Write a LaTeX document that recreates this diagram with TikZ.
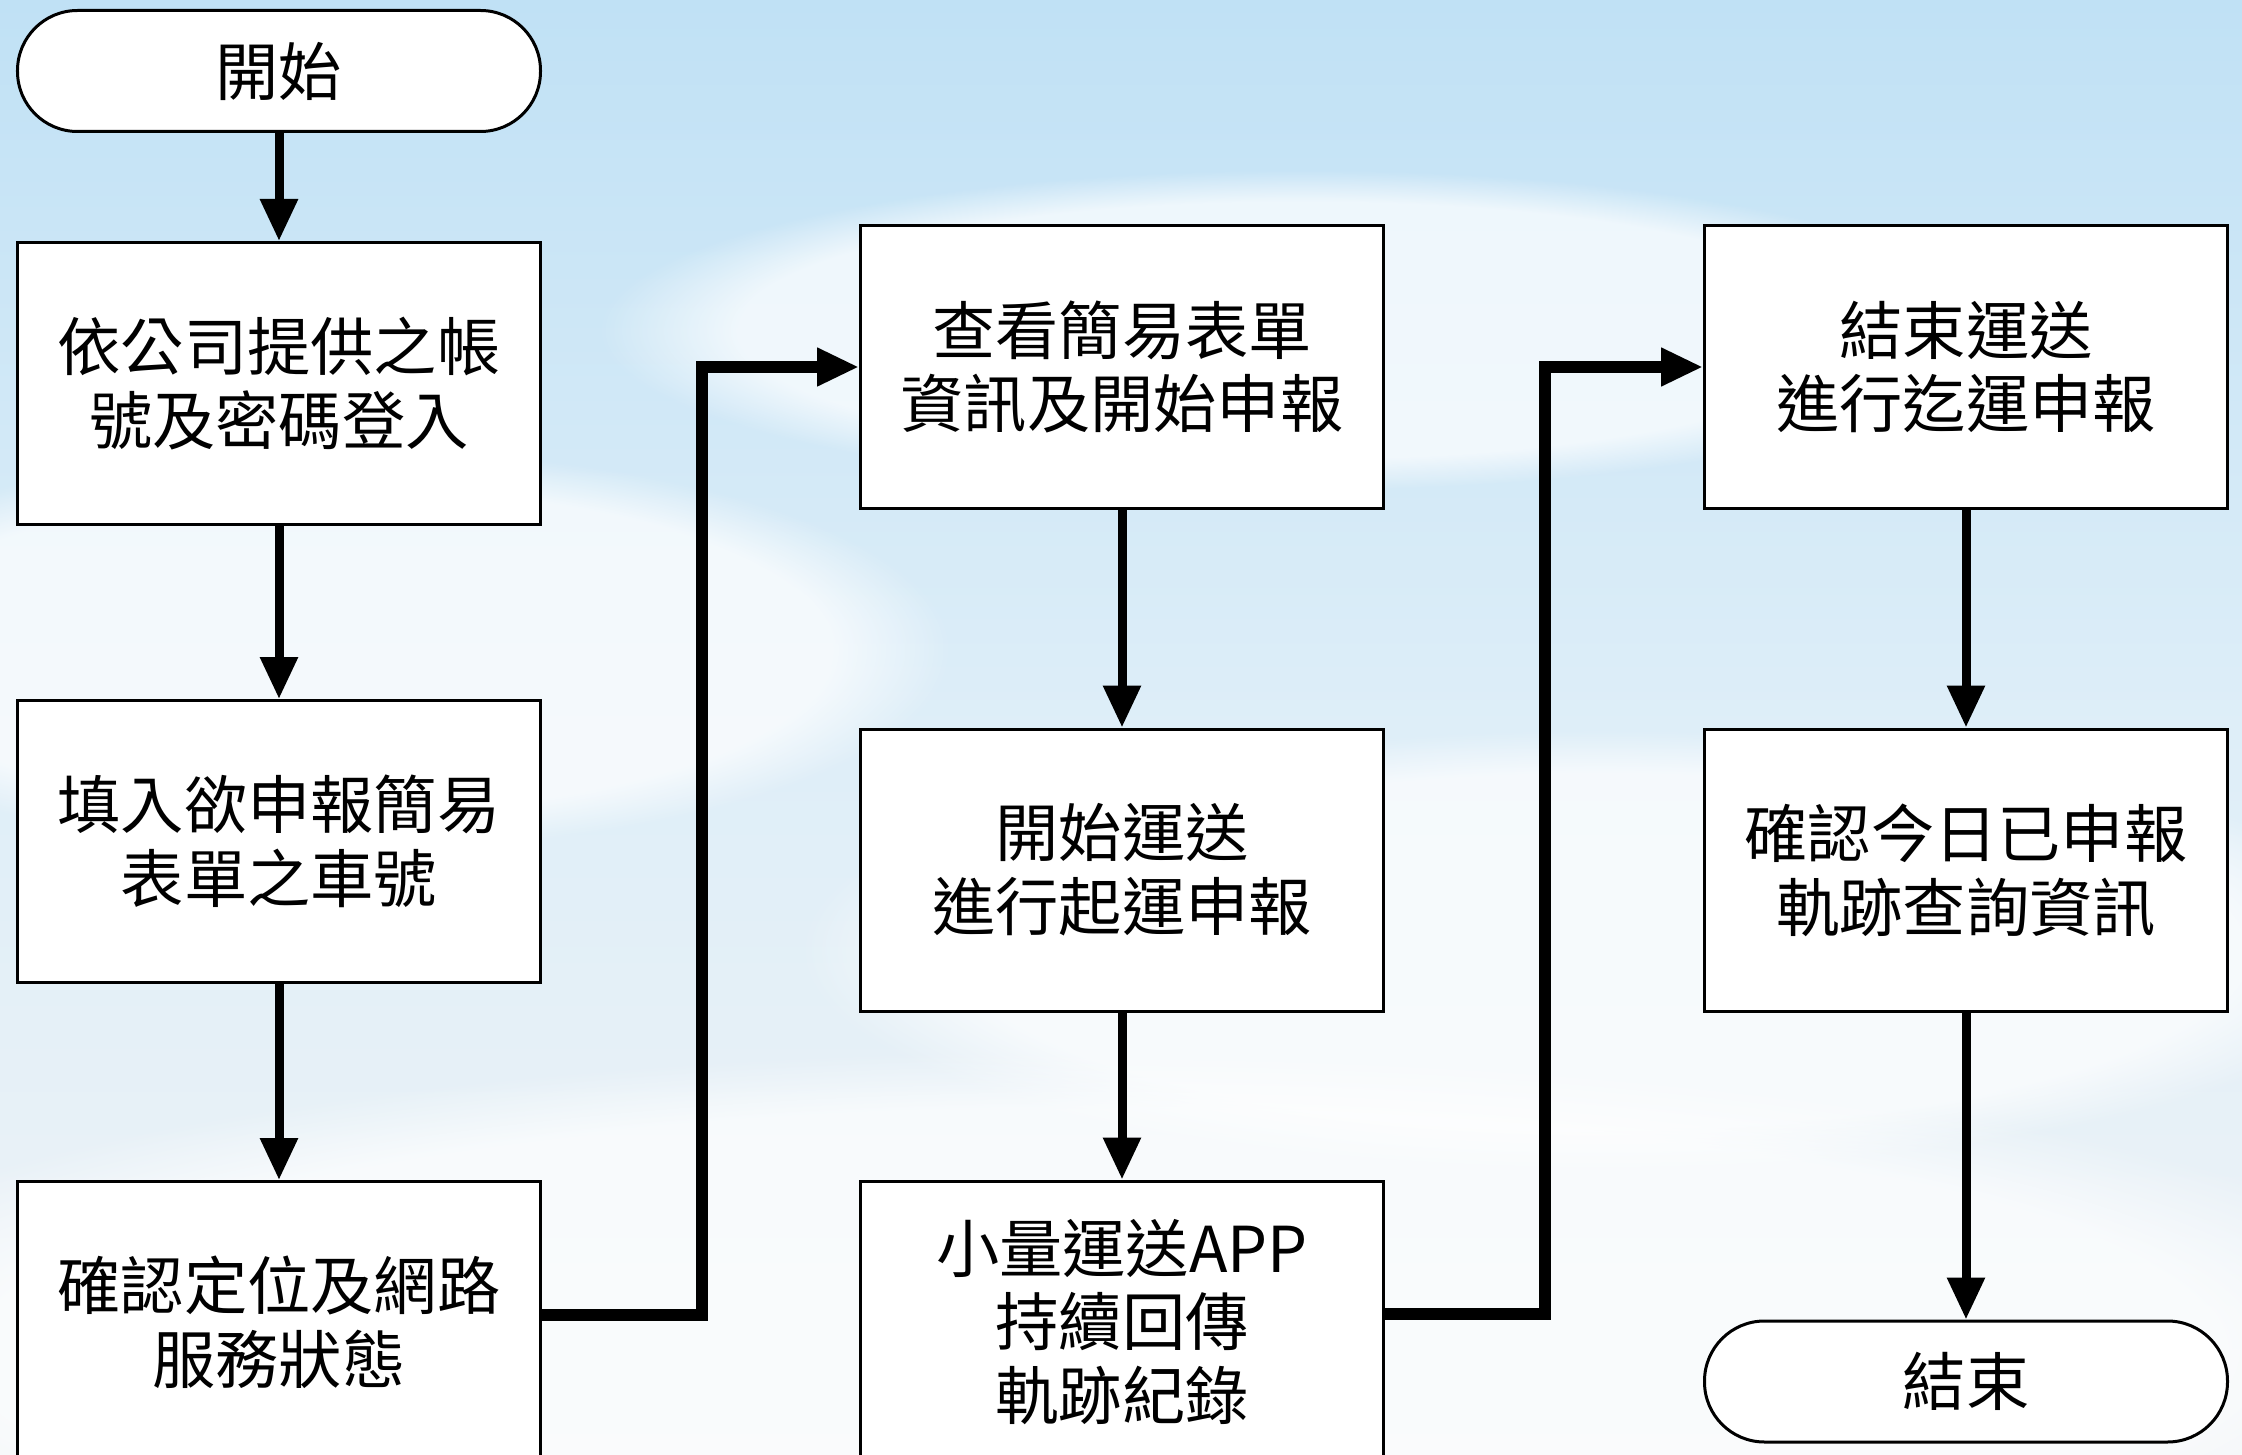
\documentclass[tikz,border=0pt]{standalone}
\usepackage{fontspec}
\newfontfamily\cjk{Noto Sans CJK TC}
\usetikzlibrary{shapes,positioning,calc,arrows.meta,fadings}
\definecolor{skytop}{RGB}{192,225,245}
\definecolor{skymid}{RGB}{222,238,248}
\definecolor{skylow}{RGB}{239,243,246}

\begin{document}
\begin{tikzpicture}[
      box/.style = {draw, fill=white, line width=0.03cm, minimum width=5.23cm,
                    minimum height=2.82cm, inner sep=0pt, align=center,
                    font=\cjk\fontsize{18}{21}\selectfont},
      term/.style = {box, rounded corners=0.6cm, minimum height=1.21cm},
      flow/.style = {-{Triangle[width=0.36cm,length=0.42cm]}, line width=0.09cm},
      jump/.style = {flow, line width=0.12cm},
      cloud/.style = {white, opacity=0.7, path fading=circle with fuzzy edge 20 percent}
      ]
      \useasboundingbox (0,0) rectangle (22.42,-14.55);
      \clip (0,0) rectangle (22.42,-14.55);
      % sky
      \shade[top color=skytop, bottom color=skylow, middle color=skymid] (0,0) rectangle (22.42,-14.55);
      \fill[cloud] (3.5,-6.5) ellipse (6cm and 2cm);
      \fill[cloud] (13,-3.3) ellipse (7cm and 1.6cm);
      \fill[cloud] (16,-9.5) ellipse (8cm and 2.2cm);
      \fill[cloud] (11,-13.5) ellipse (14cm and 3cm);

      % column 1
      \node[term] (start) at (2.79,-0.71) {開始};
      \node[box, below=1.08cm of start] (login) {依公司提供之帳\\號及密碼登入};
      \node[box, below=1.73cm of login] (plate) {填入欲申報簡易\\表單之車號};
      \node[box, below=1.96cm of plate] (check) {確認定位及網路\\服務狀態};

      % column 2
      \node[box] (form) at (11.22,-3.67) {查看簡易表單\\資訊及開始申報};
      \node[box, below=2.18cm of form] (depart) {開始運送\\進行起運申報};
      \node[box, below=1.67cm of depart] (track) {小量運送APP\\持續回傳\\軌跡紀錄};

      % column 3
      \node[box] (arrive) at (19.66,-3.67) {結束運送\\進行迄運申報};
      \node[box, below=2.18cm of arrive] (query) {確認今日已申報\\軌跡查詢資訊};
      \node[term, below=3.07cm of query] (stop) {結束};

      \draw[flow] (start) -- (login);
      \draw[flow] (login) -- (plate);
      \draw[flow] (plate) -- (check);
      \draw[jump] ([yshift=0.08cm]check.east) -- ++(1.6,0) |- (form.west);
      \draw[flow] (form) -- (depart);
      \draw[flow] (depart) -- (track);
      \draw[jump] ([yshift=0.08cm]track.east) -- ++(1.6,0) |- (arrive.west);
      \draw[flow] (arrive) -- (query);
      \draw[flow] (query) -- (stop);
    \end{tikzpicture}
\end{document}
